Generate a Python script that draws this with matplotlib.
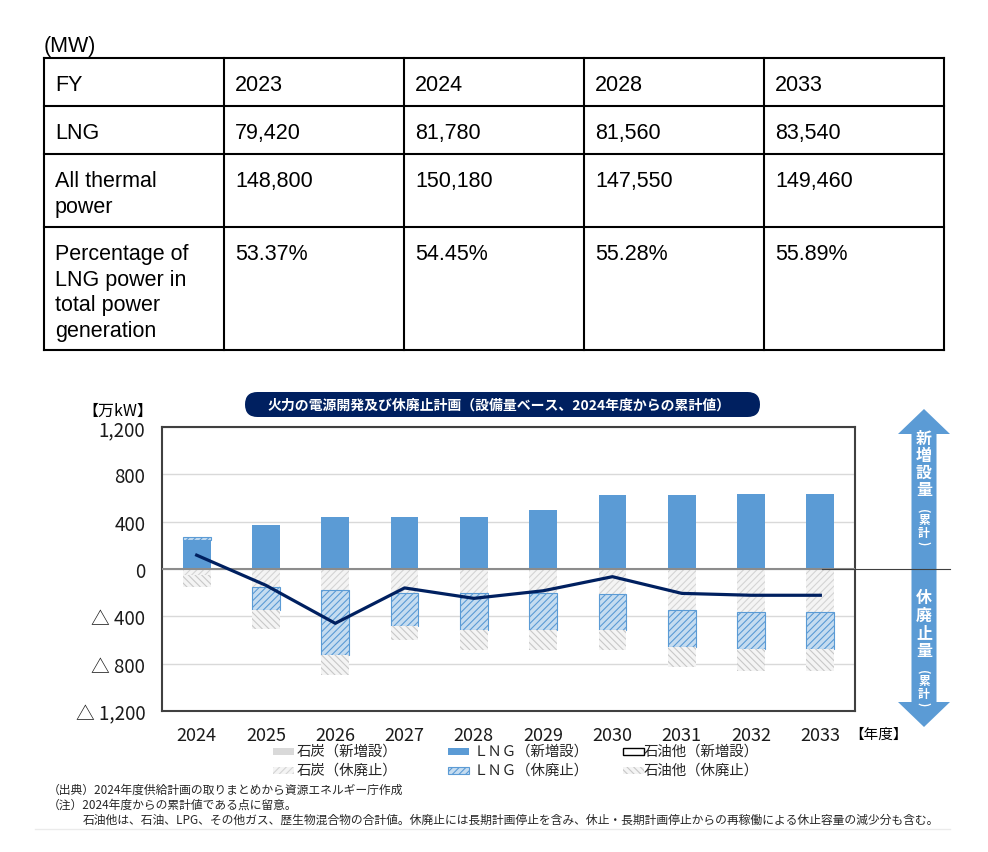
import numpy as np
import matplotlib.pyplot as plt
from matplotlib.transforms import Affine2D
from matplotlib.patches import Rectangle, Polygon, FancyBboxPatch
from matplotlib.lines import Line2D

plt.rcParams['font.family'] = ['Noto Sans CJK JP', 'DejaVu Sans']
plt.rcParams['hatch.linewidth'] = 0.8

W, H = 988, 853

# --- table data (MW) ---
table_head = ["FY", "2023", "2024", "2028", "2033"]
lng_mw = [79420, 81780, 81560, 83540]
thermal_mw = [148800, 150180, 147550, 149460]
lng_share = [53.37, 54.45, 55.28, 55.89]
row_names = ["LNG", "All thermal\npower",
             "Percentage of\nLNG power in\ntotal power\ngeneration"]

# --- chart data (万kW, cumulative from FY2024) ---
years = ["2024", "2025", "2026", "2027", "2028", "2029", "2030", "2031", "2032", "2033"]
coal_new = [0, 0, 0, 0, 0, 0, 0, 0, 0, 0]
lng_new = [248, 372, 437, 437, 437, 501, 622, 622, 637, 637]
oil_new = [0, 0, 0, 0, 0, 0, 0, 0, 0, 0]
coal_retire = [-51, -155, -180, -203, -203, -203, -208, -349, -363, -363]
lng_retire = [24, -191, -544, -282, -310, -310, -310, -310, -310, -310]
oil_retire = [-104, -164, -172, -112, -172, -172, -169, -169, -186, -186]
y_ticks = [1200, 800, 400, 0, -400, -800, -1200]
y_ticklabels = ["1,200", "800", "400", "0", "△ 400", "△ 800", "△ 1,200"]

labels = ["石炭（新増設）", "石炭（休廃止）", "ＬＮＧ（新増設）",
          "ＬＮＧ（休廃止）", "石油他（新増設）", "石油他（休廃止）"]
styles = [
    dict(facecolor='#D9D9D9', edgecolor='#D9D9D9', linewidth=0),
    dict(facecolor='#F4F4F4', edgecolor='#D4D4D4', hatch='/////', linewidth=0),
    dict(facecolor='#5B9BD5', edgecolor='#5B9BD5', linewidth=0),
    dict(facecolor='#C5DCF0', edgecolor='#5B9BD5', hatch='/////', linewidth=0.8),
    dict(facecolor='white', edgecolor='black', linewidth=1),
    dict(facecolor='#F4F4F4', edgecolor='#C8C8C8', hatch='\\\\\\\\\\', linewidth=0),
]

fig = plt.figure(figsize=(W / 100, H / 100), dpi=100)
# pixel coords, origin top-left
px = Affine2D().scale(0.01, -0.01).translate(0, H / 100) + fig.dpi_scale_trans

# ---------------- table ----------------
fig.text(44, 36, "(MW)", transform=px, va='top', ha='left',
         family='Liberation Sans', fontsize=15.5)
col_x = [44, 224, 404, 584, 764, 944]
row_y = [59, 107, 155, 228, 351]
for xv in col_x:
    fig.add_artist(Line2D([xv, xv], [row_y[0], row_y[-1]], transform=px,
                          color='black', lw=1.5, solid_capstyle='projecting'))
for yv in row_y:
    fig.add_artist(Line2D([col_x[0], col_x[-1]], [yv, yv], transform=px,
                          color='black', lw=1.5, solid_capstyle='projecting'))

rows = [table_head,
        [row_names[0]] + [f"{v:,}" for v in lng_mw],
        [row_names[1]] + [f"{v:,}" for v in thermal_mw],
        [row_names[2]] + [f"{v:.2f}%" for v in lng_share]]
for r, row in enumerate(rows):
    for c, txt in enumerate(row):
        fig.text(col_x[c] + 11, row_y[r] + 16, txt, transform=px, va='top',
                 ha='left', family='Liberation Sans', fontsize=15.5,
                 linespacing=1.29)

# ---------------- chart ----------------
ax = fig.add_axes([162 / W, 1 - 712 / H, 693 / W, 284 / H])
x = np.arange(len(years))
series = [coal_new, coal_retire, lng_new, lng_retire, oil_new, oil_retire]
order = [0, 2, 4, 1, 3, 5]  # stacking order as in the source chart
pos = np.zeros(len(years))
neg = np.zeros(len(years))
for i in order:
    v = np.array(series[i], dtype=float)
    bottom = np.where(v >= 0, pos, neg)
    m = v != 0
    if m.any():
        ax.bar(x[m], v[m], 0.4, bottom=bottom[m], zorder=1, **styles[i])
    pos += np.clip(v, 0, None)
    neg += np.clip(v, None, 0)

net = np.sum([np.array(s, dtype=float) for s in series], axis=0)
ax.plot(x, net, color='#002060', lw=2.3, zorder=4)

ax.axhline(0, color='#8C8C8C', lw=1.5, zorder=3)
ax.set_xlim(-0.5, len(years) - 0.5)
ax.set_ylim(-1200, 1200)
ax.set_yticks(y_ticks)
ax.set_yticklabels(y_ticklabels)
ax.set_xticks(x)
ax.set_xticklabels(years)
ax.tick_params(axis='both', length=0, labelsize=13.5, labelcolor='#1A1A1A')
ax.tick_params(axis='x', labelsize=13, pad=11)
ax.tick_params(axis='y', pad=12)
ax.yaxis.grid(True, color='#D9D9D9', lw=1)
ax.set_axisbelow(True)
for sp in ax.spines.values():
    sp.set_color('#404040')
    sp.set_linewidth(1.5)

fig.text(153, 411, "【万kW】", transform=px, ha='right', va='center', fontsize=11.5)
fig.text(849, 735, "【年度】", transform=px, ha='left', va='center', fontsize=10.5)

# title pill
fig.add_artist(FancyBboxPatch((245, 393), 515, 25, transform=px,
                              boxstyle='round,pad=0,rounding_size=12.5',
                              facecolor='#002060', edgecolor='none'))
fig.text(499, 405.5, "火力の電源開発及び休廃止計画（設備量ベース、2024年度からの累計値）",
         transform=px, ha='center', va='center', color='white',
         fontsize=10, fontweight='bold')

# double arrow on the right
cx = 924
arrow_pts = [(cx, 410), (cx + 26, 435), (cx + 12.5, 435), (cx + 12.5, 703),
             (cx + 26, 703), (cx, 728), (cx - 26, 703), (cx - 12.5, 703),
             (cx - 12.5, 435), (cx - 26, 435)]
fig.add_artist(Polygon(arrow_pts, closed=True, transform=px,
                       facecolor='#5B9BD5', edgecolor='none'))
fig.add_artist(Line2D([822, 950], [570, 570], transform=px, color='#404040', lw=0.8))

fig.text(cx, 464.5, "新\n増\n設\n量", transform=px, ha='center', va='center',
         color='white', fontsize=11.5, fontweight='bold', linespacing=1.07)
fig.text(cx, 624.5, "休\n廃\n止\n量", transform=px, ha='center', va='center',
         color='white', fontsize=11.5, fontweight='bold', linespacing=1.14)
for base in (527, 688):
    fig.text(cx, base, "累\n計", transform=px, ha='center', va='center',
             color='white', fontsize=8.5, fontweight='bold', linespacing=1.0)
    fig.text(cx - 1, base - 16, "(", transform=px, ha='center', va='center',
             rotation=-90, color='white', fontsize=8.5, fontweight='bold')
    fig.text(cx - 1, base + 16, ")", transform=px, ha='center', va='center',
             rotation=-90, color='white', fontsize=8.5, fontweight='bold')

# legend
icon_x = [273, 273, 448, 448, 623, 623]
text_x = [297, 297, 474, 474, 644, 644]
leg_y = [752, 771, 752, 771, 752, 771]
for i in range(6):
    fig.add_artist(Rectangle((icon_x[i], leg_y[i] - 3.5), 21, 7, transform=px,
                             **styles[i]))
    fig.text(text_x[i], leg_y[i], labels[i], transform=px, ha='left',
             va='center', fontsize=10.4, color='#262626')

# footnotes
notes = [(48, 790, "（出典）2024年度供給計画の取りまとめから資源エネルギー庁作成"),
         (48, 805, "（注）2024年度からの累計値である点に留意。"),
         (83, 820, "石油他は、石油、LPG、その他ガス、歴生物混合物の合計値。休廃止には長期計画停止を含み、"
                   "休止・長期計画停止からの再稼働による休止容量の減少分も含む。")]
for nx, ny, txt in notes:
    fig.text(nx, ny, txt, transform=px, ha='left', va='center', fontsize=8.5,
             color='#262626')
fig.add_artist(Line2D([35, 950], [830, 830], transform=px, color='#EBEBEB', lw=1))

fig.savefig("out.png", dpi=100)
